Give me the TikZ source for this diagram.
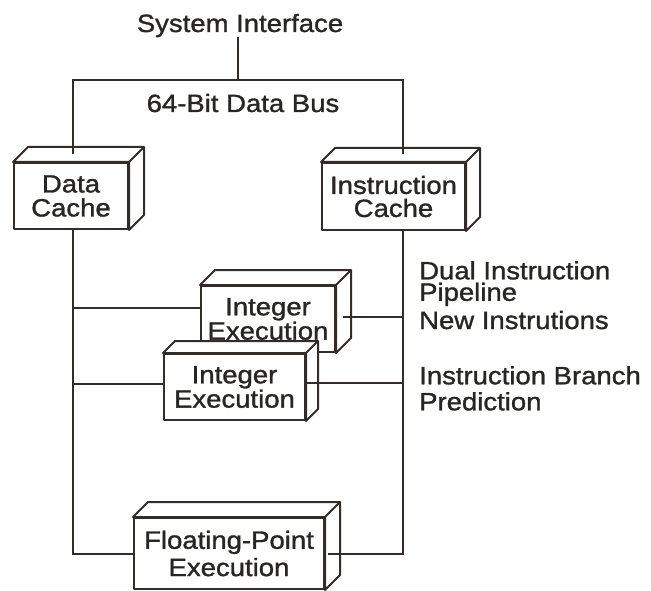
\documentclass[tikz,border=0pt]{standalone}
\usepackage{fontspec}
\setmainfont[FakeStretch=1.1, FakeBold=1.2]{Liberation Sans}
\usetikzlibrary{calc}

\definecolor{ink}{RGB}{52,44,40}
\definecolor{txt}{RGB}{40,38,36}

\tikzset{
  edge/.style={draw=ink, line width=2pt, line join=round},
  wire/.style={draw=ink, line width=2pt},
  lbl/.style={inner sep=0pt, text=txt, font=\fontsize{25}{22}\selectfont},
  face/.style={edge, fill=white, inner sep=0pt, align=center, text=txt,
               font=\fontsize{25}{22}\selectfont},
}

% a box drawn as a block: front face node plus top and side faces
% #1 name, #2 centre x, #3 centre y, #4 width, #5 height, #6 depth, #7 text
\newcommand\blockbox[7]{%
  \node[face, minimum width=#4pt, minimum height=#5pt] (#1) at (#2,#3) {#7};
  \draw[edge, fill=white] (#1.north west) -- ++(#6,-#6)
     -- ($(#1.north east)+(#6,-#6)$) -- ($(#1.south east)+(#6,-#6)$)
     -- (#1.south east) -- (#1.north east) -- cycle;
  \draw[edge] (#1.north east) -- ++(#6,-#6);
}

\begin{document}
\begin{tikzpicture}[x=1pt, y=-1pt]
  \useasboundingbox (0,0) rectangle (651,591);

  % titles
  \node[lbl, anchor=base] (sys) at (240,32) {System Interface};
  \node[lbl, anchor=base] (bus) at (243,112) {64-Bit Data Bus};

  % blocks
  \blockbox{dc}{71}{196}{114}{66}{15}{Data\\[2pt]Cache}
  \blockbox{ic}{393.5}{196.5}{143}{67}{14}{Instruction\\[1pt]Cache}
  \blockbox{ie1}{268}{319}{134}{66}{15}{Integer\\Execution}
  \blockbox{ie2}{234.5}{387}{141}{66}{12}{Integer\\Execution}
  \blockbox{fp}{229}{553.5}{190}{71}{15}{Floating-Point\\[3pt]Execution}

  % side notes
  \node[lbl, anchor=north west, align=left,
        font=\fontsize{25}{21.5}\selectfont] (n1) at (419,261)
        {Dual Instruction\\Pipeline};
  \node[lbl, anchor=base west] (n3) at (419,329) {New Instrutions};
  \node[lbl, anchor=north west, align=left,
        font=\fontsize{25}{26}\selectfont] (n4) at (419,366)
        {Instruction Branch\\Prediction};

  % bus and trunks
  \coordinate (busL) at (73,80);
  \coordinate (busR) at (403,80);
  \coordinate (busM) at (238,80);
  \coordinate (j1) at (73,308);
  \coordinate (j2) at (403,317);
  \coordinate (j3) at (73,384);
  \coordinate (j4) at (403,383);

  \draw[wire] (busM |- sys.south) -- (busM);
  \draw[wire] ($(dc.north -| busL)+(0,-8)$) -- (busL) -- (busR)
              -- ($(ic.north -| busR)+(0,-8)$);
  \draw[wire] (dc.south -| busL) -- (busL |- fp.west) -- (fp.west);
  \draw[wire] (ic.south -| busR) -- (busR |- fp.east) -- ($(fp.east)+(3,0)$);

  % links to the integer units
  \draw[wire] (j1) -- (j1 -| ie1.west);
  \draw[wire] ($(j2 -| ie1.east)+(7,0)$) -- (j2);
  \draw[wire] (j3) -- (j3 -| ie2.west);
  \draw[wire] ($(j4 -| ie2.east)+(1,0)$) -- (j4);
\end{tikzpicture}
\end{document}
